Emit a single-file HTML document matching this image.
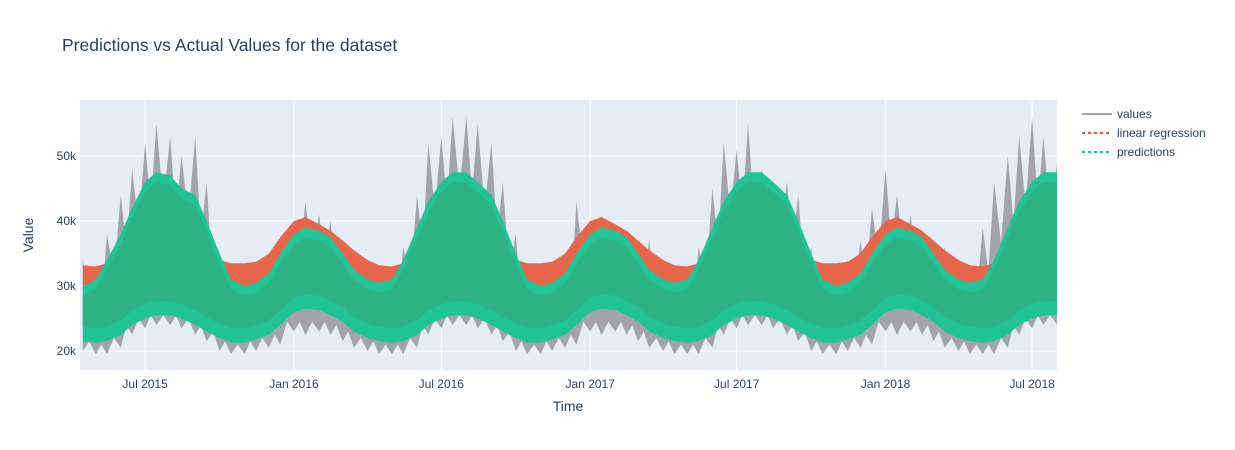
<!DOCTYPE html>
<html><head><meta charset="utf-8"><style>
body{margin:0;background:#fff;}
svg{display:block;font-family:"Liberation Sans",Arial,sans-serif;}
</style></head><body>
<svg id="chart" width="1235" height="450">
<rect x="0" y="0" width="1235" height="450" fill="#fff"/>
<text x="62" y="51" font-size="17.5" fill="#2a3f5f">Predictions vs Actual Values for the dataset</text>
<rect x="80" y="100" width="977" height="270" fill="#e5ecf6"/>
<g id="grid"></g>
<clipPath id="clip"><rect x="80" y="100" width="977" height="270"/></clipPath>
<g id="marks" clip-path="url(#clip)"></g>
<g id="ticks"></g>
<text x="568" y="411" font-size="14" fill="#2a3f5f" text-anchor="middle">Time</text>
<text transform="translate(33,235) rotate(-90)" font-size="14" fill="#2a3f5f" text-anchor="middle">Value</text>
<g>
<g><line x1="1082" y1="114" x2="1112" y2="114" stroke="#a3a3ab" stroke-width="2"/><text x="1117" y="118" font-size="12" fill="#2a3f5f">values</text></g>
<g><line x1="1082" y1="133" x2="1112" y2="133" stroke="#ef553b" stroke-width="2" stroke-dasharray="3,3"/><text x="1117" y="137" font-size="12" fill="#2a3f5f">linear regression</text></g>
<g><line x1="1082" y1="152" x2="1112" y2="152" stroke="#00cc96" stroke-width="2" stroke-dasharray="3,3"/><text x="1117" y="156" font-size="12" fill="#2a3f5f">predictions</text></g>
</g>
</svg>
<script>
// semi-monthly samples from 2015-04-15 to 2018-08-01 (values in thousands)
const startYear = 2015, startMonth = 3, startHalf = 1;
const valuesHigh = [34,31,38,44,48,52,55,53,50,53,46,35,31,30,30,32,34,
 38,43,41,40,37,33,31,31,31,36,44,52,53,56,56,55,52,46,38,31,30,31,33,43,
 40,41,39,37,36,37,32,31,32,36,45,52,51,55,48,44,46,44,36,32,32,34,37,42,
 48,44,41,37,37,36,33,32,39,46,50,53,56,53,49];
const valuesLow = [20,19.5,19.5,20.5,22.5,23.5,24,24,23.5,22.5,21.5,20,19.5,19.5,20,20.5,21,
 23,22.5,23,22.5,21.5,20.5,20,19.5,19.5,19.5,20.5,22.5,23.5,24,24,23.5,22.5,21.5,20,19.5,19.5,20,20.5,21,
 23,22.5,23,22.5,21.5,20.5,20,19.5,19.5,19.5,20.5,22.5,23.5,24,24,23.5,22.5,21.5,20,19.5,19.5,20,20.5,21,
 23,22.5,23,22.5,21.5,20.5,20,19.5,19.5,19.5,20.5,22.5,23.5,24,24];
const lrHigh = [33.2,33,33.5,35,36.5,37.5,38,38,37,36,35,34,33.5,33.5,33.7,35,37.5,
 40,40.6,39.5,38.5,37,35.5,34,33.2,33,33.5,35,36.5,37.5,38,38,37,36,35,34,33.5,33.5,33.7,35,37.5,
 40,40.6,39.5,38.5,37,35.5,34,33.2,33,33.5,35,36.5,37.5,38,38,37,36,35,34,33.5,33.5,33.7,35,37.5,
 40,40.6,39.5,38.5,37,35.5,34,33.2,33,33.5,35,36.5,37.5,38,38];
const lrLow = [29.5,29.5,30,31,32,33,33.5,33.5,33,32,31,30.5,30,30,30.2,31.5,33.5,
 35.5,36,35,34.5,33,32,30.5,29.8,29.5,30,31,32,33,33.5,33.5,33,32,31,30.5,30,30,30.2,31.5,33.5,
 35.5,36,35,34.5,33,32,30.5,29.8,29.5,30,31,32,33,33.5,33.5,33,32,31,30.5,30,30,30.2,31.5,33.5,
 35.5,36,35,34.5,33,32,30.5,29.8,29.5,30,31,32,33,33.5,33.5];
const predHigh = [30,31,34,38,42,46,47.5,47,45,44,40,35,31,30,30.5,32,35,
 38,39,38.5,37.5,35,32.5,31,30.5,31,34,39,43,46,47.5,47.5,46,44,40,35,31,30,30.5,32,35,
 38,39,38.5,37.5,35,32.5,31,30.5,31,34,39,43,46,47.5,47.5,46,44,40,35,31,30,30.5,32,35,
 38,39,38.5,37.5,35,32.5,31,30.5,31,34,39,43,46,47.5,47.5];
const predLow = [21.5,21.3,21.5,22.5,24,25,25.5,25.5,25,24,23,22,21.3,21.3,21.8,22.5,24,
 26,26.5,26.3,25.5,24.5,23,22,21.5,21.3,21.5,22.5,24,25,25.5,25.5,25,24,23,22,21.3,21.3,21.8,22.5,24,
 26,26.5,26.3,25.5,24.5,23,22,21.5,21.3,21.5,22.5,24,25,25.5,25.5,25,24,23,22,21.3,21.3,21.8,22.5,24,
 26,26.5,26.3,25.5,24.5,23,22,21.5,21.3,21.5,22.5,24,25,25.5,25.5];
const yTicks = [20,30,40,50];
const yTickLabels = ["20k","30k","40k","50k"];
const xTickDates = ["2015-07-01","2016-01-01","2016-07-01","2017-01-01","2017-07-01","2018-01-01","2018-07-01"];
const xTickLabels = ["Jul 2015","Jan 2016","Jul 2016","Jan 2017","Jul 2017","Jan 2018","Jul 2018"];

const NS = "http://www.w3.org/2000/svg";
const x0 = Date.UTC(2016,0,1), x1 = Date.UTC(2016,6,1);
function xs(d){ return 294 + (d - x0) / (x1 - x0) * 147.3; }
function ys(v){ return 351 - (v - 20) * 6.5; }
const dates = [];
for (let i = 0; i < valuesHigh.length; i++) {
  const k = startHalf + i;
  const m = startMonth + Math.floor(k / 2);
  dates.push(Date.UTC(startYear, m, (k % 2) ? 15 : 1));
}
function el(tag, attrs, parent){
  const e = document.createElementNS(NS, tag);
  for (const a in attrs) e.setAttribute(a, attrs[a]);
  parent.appendChild(e); return e;
}
const grid = document.getElementById('grid');
const ticks = document.getElementById('ticks');
yTicks.forEach((v, i) => {
  const l = el('line', {x1:80, x2:1057, y1:ys(v), y2:ys(v), stroke:'#fff', 'stroke-width':1}, grid);
  
  
  const t = el('text', {x:76, y:ys(v)+4, 'font-size':12, fill:'#2a3f5f', 'text-anchor':'end'}, ticks);
  t.textContent = yTickLabels[i];
  
  
});
xTickDates.forEach((d, i) => {
  const x = xs(Date.parse(d));
  const l = el('line', {x1:x, x2:x, y1:100, y2:370, stroke:'#fff', 'stroke-width':1}, grid);
  
  
  const t = el('text', {x:x, y:388, 'font-size':12, fill:'#2a3f5f', 'text-anchor':'middle'}, ticks);
  t.textContent = xTickLabels[i];
  
  
});
const marks = document.getElementById('marks');
function band(hi, lo, fill, op, name, zig, dh, dl){
  let pts = [];
  for (let i = 0; i < hi.length; i++) {
    pts.push(xs(dates[i]).toFixed(1) + ',' + ys(hi[i] - dh).toFixed(1));
    if (zig && i < hi.length - 1) {
      const xm = (xs(dates[i]) + xs(dates[i+1])) / 2;
      const vm = Math.min(hi[i], hi[i+1]) - (Math.min(hi[i], hi[i+1]) - lo[i]) * 0.35;
      pts.push(xm.toFixed(1) + ',' + ys(vm).toFixed(1));
    }
  }
  for (let i = lo.length - 1; i >= 0; i--) {
    if (zig && i < lo.length - 1) {
      const xm = (xs(dates[i]) + xs(dates[i+1])) / 2;
      pts.push(xm.toFixed(1) + ',' + ys(Math.max(lo[i], lo[i+1]) + 1.5).toFixed(1));
    }
    pts.push(xs(dates[i]).toFixed(1) + ',' + ys(lo[i] + dl).toFixed(1));
  }
  const p = el('polygon', {points:pts.join(' '), fill:fill, 'fill-opacity':op}, marks);
  
  
}
band(valuesHigh, valuesLow, '#a3a3ab', 1, 'values-series', true, 0, 0);
band(lrHigh, lrLow, '#e6654b', 1, 'linear-regression-series', false, 0, 0);
band(predHigh, predLow, '#1fc396', 1, 'predictions-series', false, 0, 0);
band(predHigh, predLow, '#2db383', 1, 'predictions-overlap', false, 1.5, 2.2);
</script>
</body></html>
